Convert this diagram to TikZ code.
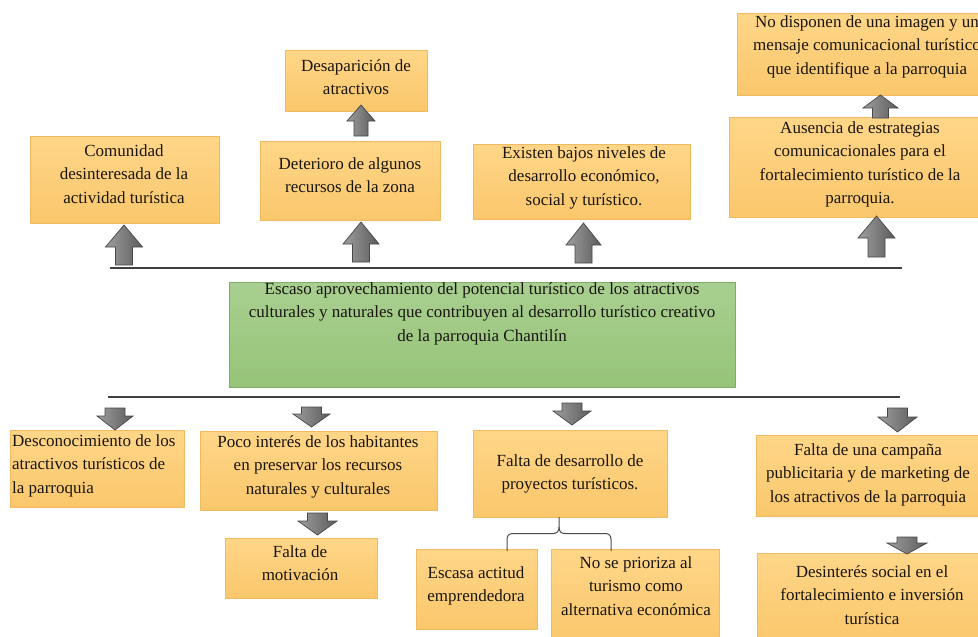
\documentclass[tikz,border=0pt]{standalone}
\usepackage{fontspec}
\setmainfont{Liberation Serif}
\definecolor{boxtop}{RGB}{255,214,136}
\definecolor{boxbot}{RGB}{250,199,108}
\definecolor{boxedge}{RGB}{240,186,96}
\definecolor{grtop}{RGB}{168,207,144}
\definecolor{grbot}{RGB}{150,196,120}
\definecolor{gredge}{RGB}{128,172,106}
\definecolor{txtc}{RGB}{25,22,18}
\newcommand\UpArr[6]{% cx, tip y, base y, head half width, shaft half width, head height
  \path[blockarr] (#1,#2) -- ({#1+#4},{#2+#6}) -- ({#1+#5},{#2+#6}) -- ({#1+#5},#3)
    -- ({#1-#5},#3) -- ({#1-#5},{#2+#6}) -- ({#1-#4},{#2+#6}) -- cycle;}
\newcommand\DnArr[6]{% cx, tip y, top y, head half width, shaft half width, head height
  \path[blockarr] (#1,#2) -- ({#1+#4},{#2-#6}) -- ({#1+#5},{#2-#6}) -- ({#1+#5},#3)
    -- ({#1-#5},#3) -- ({#1-#5},{#2-#6}) -- ({#1-#4},{#2-#6}) -- cycle;}
\begin{document}
\begin{tikzpicture}[x=1pt,y=-1pt,
  obox/.style={rectangle, draw=boxedge, line width=0.5pt, top color=boxtop, bottom color=boxbot, inner sep=0pt},
  gbox/.style={rectangle, draw=gredge, line width=0.6pt, top color=grtop, bottom color=grbot, inner sep=0pt},
  txt/.style={inner sep=0pt, align=center, anchor=base, text=txtc, font=\fontsize{17}{23.5}\selectfont},
  blockarr/.style={draw=black!72, line width=0.7pt, left color=black!38, right color=black!64},
  hline/.style={draw=black!75, line width=1.2pt},
  bracel/.style={draw=black!70, line width=1pt}]
\useasboundingbox (0,0) rectangle (978,637);
\clip (0,0) rectangle (978,637);
\fill[white] (0,0) rectangle (978,637);

% separator lines
\coordinate (tlL) at (110,268);
\coordinate (tlR) at (902,268);
\coordinate (blL) at (108,397);
\coordinate (blR) at (900,397);
\draw[hline] (tlL) -- (tlR);
\draw[hline] (blL) -- (blR);

% top boxes (effects)
\node[obox, minimum width=189pt, minimum height=87pt] (a1) at (124.5,179.5) {};
\node[obox, minimum width=180pt, minimum height=79pt] (a2) at (350,180.5) {};
\node[obox, minimum width=142pt, minimum height=61pt] (a2b) at (356,80.5) {};
\node[obox, minimum width=217pt, minimum height=75pt] (a3) at (581.5,181.5) {};
\node[obox, minimum width=262pt, minimum height=100pt] (a4) at (860,167) {};
\node[obox, minimum width=260pt, minimum height=82pt] (a4b) at (867,54) {};

% central problem
\node[gbox, minimum width=506pt, minimum height=105pt] (g) at (482,334.5) {};

% bottom boxes (causes)
\node[obox, minimum width=174pt, minimum height=77pt] (b1) at (97,468.5) {};
\node[obox, minimum width=237pt, minimum height=79pt] (b2) at (318.5,470.5) {};
\node[obox, minimum width=152pt, minimum height=60pt] (b2b) at (301,568) {};
\node[obox, minimum width=194pt, minimum height=87pt] (b3) at (570,473.5) {};
\node[obox, minimum width=121pt, minimum height=80pt] (b3a) at (476.5,589) {};
\node[obox, minimum width=168pt, minimum height=93pt] (b3b) at (635,595.5) {};
\node[obox, minimum width=226pt, minimum height=81pt] (b4) at (869,475.5) {};
\node[obox, minimum width=231pt, minimum height=89pt] (b4b) at (872.5,597.5) {};

% texts (anchored at the baseline of the last line)
\node[txt] (a1t) at (124,203) {Comunidad\\desinteresada de la\\actividad turística};
\node[txt] (a2t) at (350,192.5) {Deterioro de algunos\\recursos de la zona};
\node[txt] (a2bt) at (356,94.5) {Desaparición de\\atractivos};
\node[txt] (a3t) at (584,205) {Existen bajos niveles de\\desarrollo económico,\\social y turístico.};
\node[txt] (a4t) at (860,203.5) {Ausencia de estrategias\\comunicacionales para el\\fortalecimiento turístico de la\\parroquia.};
\node[txt] (a4bt) at (867,74) {No disponen de una imagen y un\\mensaje comunicacional turístico\\que identifique a la parroquia};
\node[txt] (gt) at (482,341) {Escaso aprovechamiento del potencial turístico de los atractivos\\culturales y naturales que contribuyen al desarrollo turístico creativo\\de la parroquia Chantilín};
\node[txt, align=left, anchor=base west] (b1t) at (12,493) {Desconocimiento de los\\atractivos turísticos de\\la parroquia};
\node[txt] (b2t) at (318,494) {Poco interés de los habitantes\\en preservar los recursos\\naturales y culturales};
\node[txt] (b2bt) at (300,580.5) {Falta de\\motivación};
\node[txt] (b3t) at (570,489.5) {Falta de desarrollo de\\proyectos turísticos.};
\node[txt] (b3at) at (476,601.5) {Escasa actitud\\emprendedora};
\node[txt] (b3bt) at (636,615) {No se prioriza al\\turismo como\\alternativa económica};
\node[txt] (b4t) at (868,502) {Falta de una campaña\\publicitaria y de marketing de\\los atractivos de la parroquia};
\node[txt] (b4bt) at (872,624) {Desinterés social en el\\fortalecimiento e inversión\\turística};

% block arrows up
\UpArr{124}{225}{265}{18.5}{8.5}{22}
\UpArr{361}{222}{262}{18}{8.5}{22}
\UpArr{361}{105}{136}{14}{7}{16}
\UpArr{583.5}{223}{263}{17.5}{8.5}{22}
\UpArr{876.5}{216}{257}{18.5}{8.5}{22}
\UpArr{880.5}{95}{118}{17.5}{8}{13}

% block arrows down
\DnArr{115}{430}{408}{18}{10}{14}
\DnArr{311.5}{427}{407}{18.5}{10}{13}
\DnArr{317.5}{535}{513}{19.5}{10}{14}
\DnArr{572}{425}{403}{19}{10}{14}
\DnArr{897.5}{432}{408}{19.5}{10}{15}
\DnArr{907}{554}{537}{20}{10}{11}

% brace
\coordinate (brt) at (559,517);
\coordinate (brl) at (507,551);
\coordinate (brr) at (611,551);
\draw[bracel] (brt) -- (559,527) .. controls (559,531.5) and (557,533.5) .. (553,533.5)
  -- (513,533.5) .. controls (509,533.5) and (507,535.5) .. (507,539.5) -- (brl);
\draw[bracel] (559,527) .. controls (559,531.5) and (561,533.5) .. (565,533.5)
  -- (605,533.5) .. controls (609,533.5) and (611,535.5) .. (611,539.5) -- (brr);
\end{tikzpicture}
\end{document}
